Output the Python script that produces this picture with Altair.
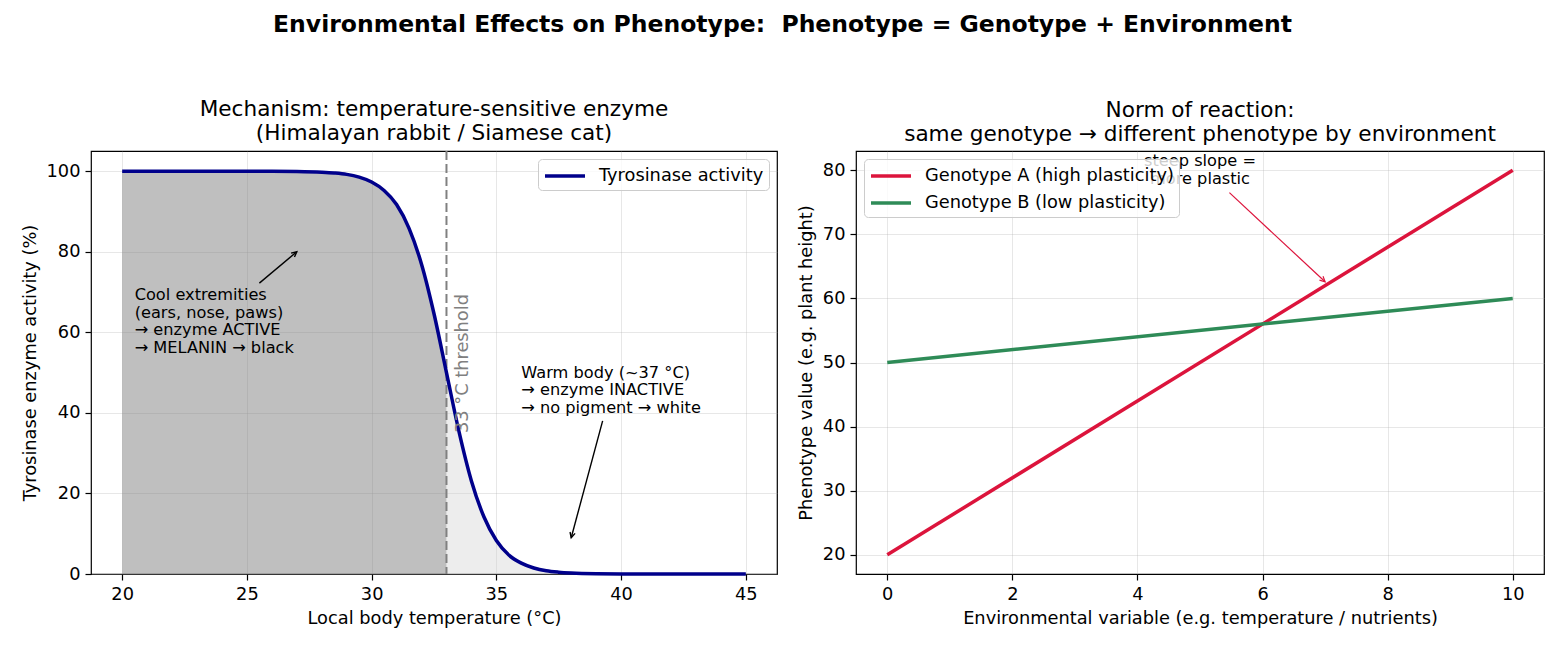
import math
import altair as alt
import pandas as pd

FONT = "DejaVu Sans"

# ---------------- data ----------------
temp_c = [20, 22, 24, 26, 27, 28, 28.5, 29, 29.5, 30, 30.5, 31, 31.5, 32, 32.5, 33,
          33.5, 34, 34.5, 35, 35.5, 36, 36.5, 37, 37.5, 38, 39, 40, 42, 45]
activity = [100, 100, 100, 99.98, 99.93, 99.75, 99.55, 99.2, 98.5, 97.3, 95.2, 91.7, 85.8,
            76.9, 64.6, 50, 35.4, 23.1, 14.2, 8.3, 4.7, 2.7, 1.5, 0.8, 0.45, 0.25, 0.07,
            0.02, 0, 0]
threshold = 33

env = [0, 10]
genotype_a = [20, 80]
genotype_b = [50, 60]
series_a = "Genotype A (high plasticity)"
series_b = "Genotype B (low plasticity)"

cool_text = "Cool extremities\n(ears, nose, paws)\n→ enzyme ACTIVE\n→ MELANIN → black"
warm_text = "Warm body (~37 °C)\n→ enzyme INACTIVE\n→ no pigment → white"
slope_text = "steep slope =\nmore plastic"

# ---------------- layout ----------------
W1, W2, H = 686, 688, 423
X1 = [18.75, 46.25]
Y1 = [0, 105]
X2 = [-0.5, 10.5]
Y2 = [17, 83]
CHEVRON = "M-0.5,1L0,0L0.5,1"
LEG_LINE = "M-2,0L2,0"
LBL = 17.8
ANN = 16.2


def head_angle(x0, y0, x1, y1, xd, yd, w, h):
    dx = (x1 - x0) * w / (xd[1] - xd[0])
    dy = (y1 - y0) * h / (yd[1] - yd[0])
    return math.degrees(math.atan2(dx, dy)) % 360


def legend(orient, row_pad=6):
    return alt.Legend(
        title=None, orient=orient, offset=8, symbolType=LEG_LINE,
        symbolSize=400, symbolStrokeWidth=3.5, symbolOffset=10,
        labelFontSize=LBL, labelFont=FONT, labelColor="black", labelOffset=22,
        labelLimit=0, rowPadding=row_pad,
        fillColor="rgba(255,255,255,0.8)", strokeColor="#cccccc", padding=5,
        cornerRadius=4, zindex=1,
    )


curve = pd.DataFrame({"T": temp_c, "A": activity})

xs1 = alt.Scale(domain=X1, nice=False, zero=False)
ys1 = alt.Scale(domain=Y1, nice=False, zero=False)

x_axis1 = alt.Axis(values=[20, 25, 30, 35, 40, 45], title="Local body temperature (°C)")
y_axis1 = alt.Axis(values=[0, 20, 40, 60, 80, 100], title="Tyrosinase enzyme activity (%)")

area_dark = alt.Chart(curve).transform_filter(alt.datum.T <= threshold).mark_area(
    color="#808080", opacity=0.5, interpolate="monotone"
).encode(
    x=alt.X("T:Q", scale=xs1, axis=x_axis1),
    y=alt.Y("A:Q", scale=ys1, axis=y_axis1),
)
area_light = alt.Chart(curve).transform_filter(alt.datum.T >= threshold).mark_area(
    color="#d3d3d3", opacity=0.4, interpolate="monotone"
).encode(x="T:Q", y="A:Q")

line1 = alt.Chart(curve).transform_calculate(series="'Tyrosinase activity'").mark_line(
    strokeWidth=3.5, interpolate="monotone"
).encode(
    x="T:Q",
    y="A:Q",
    color=alt.Color(
        "series:N",
        scale=alt.Scale(domain=["Tyrosinase activity"], range=["#00008b"]),
        legend=legend("top-right"),
    ),
)

rule_df = pd.DataFrame({"x": [threshold]})
thr_rule = alt.Chart(rule_df).mark_rule(
    color="#808080", strokeWidth=2, strokeDash=[9, 4]
).encode(x="x:Q")

thr_text = alt.Chart(pd.DataFrame({"x": [33.65], "y": [35], "t": ["33 °C threshold"]})).mark_text(
    angle=270, align="left", baseline="middle", fontSize=LBL, font=FONT, color="#808080"
).encode(x="x:Q", y="y:Q", text="t:N")

ann1 = pd.DataFrame({
    "x": [20.5, 36.0],
    "y": [68.0, 48.7],
    "t": [cool_text, warm_text],
})
ann_text1 = alt.Chart(ann1).mark_text(
    align="left", baseline="alphabetic", fontSize=ANN, font=FONT, color="black",
    lineBreak="\n", lineHeight=17.5
).encode(x="x:Q", y="y:Q", text="t:N")

arrows1 = pd.DataFrame({
    "x": [25.5, 39.26],
    "y": [72.2, 38.0],
    "x2": [27.0, 38.0],
    "y2": [80.0, 9.0],
})
arrows1["ang"] = [head_angle(r.x, r.y, r.x2, r.y2, X1, Y1, W1, H) for r in arrows1.itertuples()]
arrow_shaft1 = alt.Chart(arrows1).mark_rule(color="black", strokeWidth=1.4).encode(
    x="x:Q", y="y:Q", x2="x2:Q", y2="y2:Q")
arrow_head1 = alt.Chart(arrows1).mark_point(
    shape=CHEVRON, filled=False, size=110, strokeWidth=1.4, color="black", opacity=1
).encode(x="x2:Q", y="y2:Q", angle=alt.Angle("ang:Q", scale=None))

left = alt.layer(
    area_dark, area_light, thr_rule, line1, thr_text, ann_text1, arrow_shaft1, arrow_head1
).properties(
    width=W1, height=H,
    title=alt.TitleParams(
        ["Mechanism: temperature-sensitive enzyme", "(Himalayan rabbit / Siamese cat)"],
        fontSize=21.6, font=FONT, fontWeight="normal", lineHeight=24, offset=5, color="black"
    ),
)

# ---------------- right panel ----------------
norm = pd.DataFrame({"E": env, series_a: genotype_a, series_b: genotype_b})
xs2 = alt.Scale(domain=X2, nice=False, zero=False)
ys2 = alt.Scale(domain=Y2, nice=False, zero=False)

lines2 = alt.Chart(norm).transform_fold([series_a, series_b], as_=["series", "v"]).mark_line(
    strokeWidth=3.5
).encode(
    x=alt.X("E:Q", scale=xs2, axis=alt.Axis(values=[0, 2, 4, 6, 8, 10], format="d",
            title="Environmental variable (e.g. temperature / nutrients)")),
    y=alt.Y("v:Q", scale=ys2, axis=alt.Axis(values=[20, 30, 40, 50, 60, 70, 80], format="d",
            title="Phenotype value (e.g. plant height)")),
    color=alt.Color(
        "series:N",
        scale=alt.Scale(domain=[series_a, series_b], range=["#dc143c", "#2e8b57"]),
        legend=legend("top-left"),
    ),
)

ann2 = pd.DataFrame({"x": [5.0], "y": [80.6], "t": [slope_text]})
ann_text2 = alt.Chart(ann2).mark_text(
    align="center", baseline="alphabetic", fontSize=ANN, font=FONT, color="black",
    lineBreak="\n", lineHeight=17.5
).encode(x="x:Q", y="y:Q", text="t:N")

arrows2 = pd.DataFrame({"x": [5.47], "y": [76.5], "x2": [7.0], "y2": [62.6]})
arrows2["ang"] = [head_angle(r.x, r.y, r.x2, r.y2, X2, Y2, W2, H) for r in arrows2.itertuples()]
arrow_shaft2 = alt.Chart(arrows2).mark_rule(color="#dc143c", strokeWidth=1.2).encode(
    x="x:Q", y="y:Q", x2="x2:Q", y2="y2:Q")
arrow_head2 = alt.Chart(arrows2).mark_point(
    shape=CHEVRON, filled=False, size=110, strokeWidth=1.2, color="#dc143c", opacity=1
).encode(x="x2:Q", y="y2:Q", angle=alt.Angle("ang:Q", scale=None))

right = alt.layer(ann_text2, arrow_shaft2, arrow_head2, lines2).properties(
    width=W2, height=H,
    title=alt.TitleParams(
        ["Norm of reaction:", "same genotype → different phenotype by environment"],
        fontSize=21.6, font=FONT, fontWeight="normal", lineHeight=24, offset=5, color="black"
    ),
)

chart = alt.hconcat(left, right, spacing=18).resolve_scale(color="independent").properties(
    title=alt.TitleParams(
        "Environmental Effects on Phenotype: \u00a0Phenotype = Genotype + Environment",
        fontSize=23.5, font=FONT, fontWeight="bold", anchor="middle", offset=62, color="black"
    ),
    padding={"left": 20, "top": 13, "right": 5, "bottom": 5},
).configure_view(
    stroke="black", strokeWidth=1.2
).configure_axis(
    domain=False, grid=True, gridColor="#b0b0b0", gridOpacity=0.3, gridWidth=1,
    tickColor="black", tickSize=6, tickWidth=1.2, labelColor="black", labelFont=FONT,
    labelFontSize=LBL, labelPadding=5, titleFont=FONT, titleFontSize=LBL,
    titleFontWeight="normal", titleColor="black", titlePadding=7,
)

chart.save("out.html", embed_options={"renderer": "svg", "actions": False})
